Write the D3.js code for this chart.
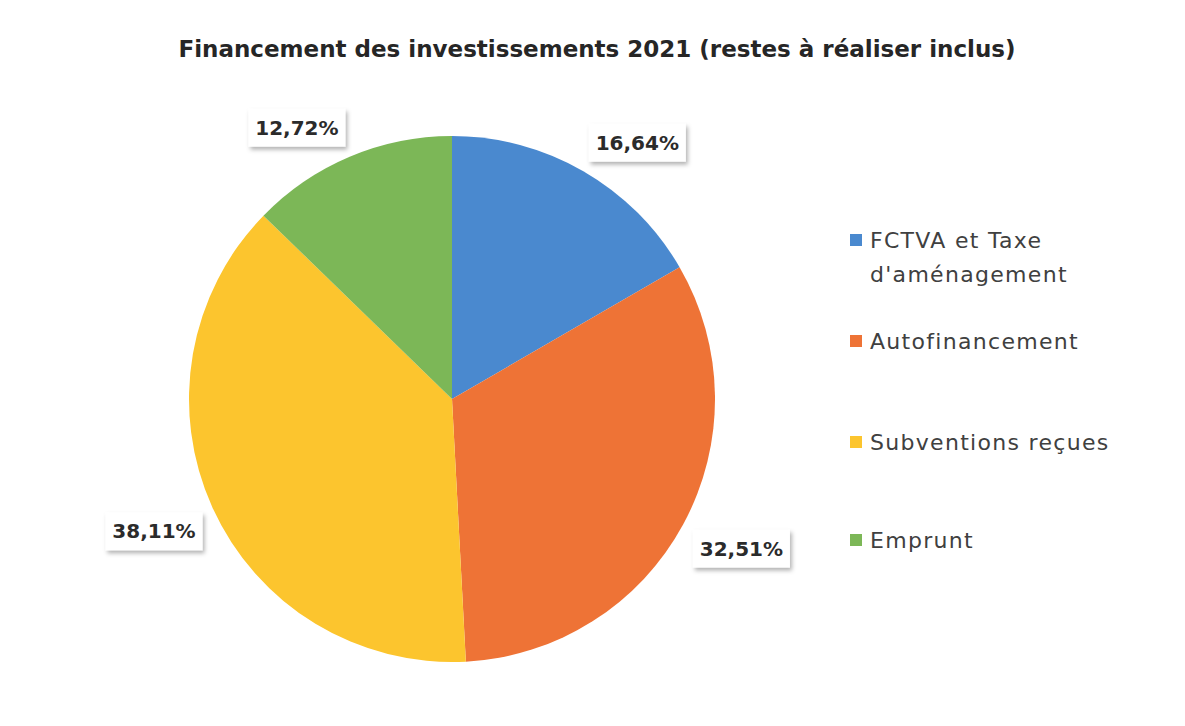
<!DOCTYPE html>
<html>
<head>
<meta charset="utf-8">
<script src="https://cdn.jsdelivr.net/npm/d3@7"></script>
<style>
  body { margin: 0; background: #fff; }
  svg { display: block; }
</style>
</head>
<body>
<div id="chart"></div>
<script>
const categories = ["FCTVA et Taxe d'aménagement", "Autofinancement", "Subventions reçues", "Emprunt"];
const legendLines = [["FCTVA et Taxe", "d'aménagement"], ["Autofinancement"], ["Subventions reçues"], ["Emprunt"]];
const values = [16.64, 32.51, 38.11, 12.72];
const colors = ["#4a89cf", "#ee7336", "#fcc52e", "#7cb757"];

const W = 1185, H = 726;
const cx = 452, cy = 399, R = 263;
const font = "'DejaVu Sans', sans-serif";

const svg = d3.select("#chart").append("svg")
  .attr("width", W).attr("height", H);

const defs = svg.append("defs");
const f = defs.append("filter").attr("id", "shadow")
  .attr("x", "-20%").attr("y", "-20%").attr("width", "150%").attr("height", "170%");
f.append("feDropShadow").attr("dx", 2).attr("dy", 3).attr("stdDeviation", 2)
  .attr("flood-color", "#000").attr("flood-opacity", 0.3);

svg.append("text")
  .attr("x", 597).attr("y", 57)
  .attr("text-anchor", "middle")
  .attr("font-family", font).attr("font-weight", "bold")
  .attr("font-size", 23).attr("fill", "#262626")
  .text("Financement des investissements 2021 (restes à réaliser inclus)");

const pie = d3.pie().sort(null).value(d => d);
const arcs = pie(values);
const arc = d3.arc().innerRadius(0).outerRadius(R);

const g = svg.append("g").attr("transform", `translate(${cx},${cy})`);

g.selectAll("path.slice")
  .data(arcs)
  .enter()
  .append("path")
  .attr("class", "slice")
  .attr("d", arc)
  .attr("fill", (d, i) => colors[i]);

// labels placed outside the end of each slice
const fmt = v => v.toFixed(2).replace(".", ",") + "%";
const bw = 97, bh = 38, gap = 11;
arcs.forEach((d, i) => {
  const a = (d.startAngle + d.endAngle) / 2;
  const s = Math.sin(a), c = -Math.cos(a);
  const px = (R + gap) * s, py = (R + gap) * c;
  const lx = px + Math.sign(s) * bw / 2;
  const ly = py + Math.sign(c) * bh / 2;
  const lab = g.append("g").attr("transform", `translate(${lx},${ly})`);
  lab.append("rect")
    .attr("x", -bw / 2).attr("y", -bh / 2)
    .attr("width", bw).attr("height", bh)
    .attr("fill", "#fff")
    .attr("filter", "url(#shadow)");
  lab.append("text")
    .attr("text-anchor", "middle").attr("dy", "0.36em")
    .attr("font-family", font).attr("font-weight", "bold")
    .attr("font-size", 20).attr("fill", "#2b2b2b")
    .text(fmt(values[i]));
});

// legend
const legendY = [240, 341, 442, 540];
const leg = svg.append("g");
legendLines.forEach((lines, i) => {
  const y = legendY[i];
  leg.append("rect")
    .attr("x", 850).attr("y", y - 6)
    .attr("width", 12).attr("height", 12)
    .attr("fill", colors[i]);
  const t = leg.append("text")
    .attr("x", 870).attr("y", y + 8)
    .attr("font-family", font)
    .attr("font-size", 22).attr("letter-spacing", 1.3)
    .attr("fill", "#404040");
  lines.forEach((ln, j) => {
    t.append("tspan").attr("x", 870).attr("dy", j === 0 ? 0 : 34).text(ln);
  });
});
</script>
</body>
</html>
